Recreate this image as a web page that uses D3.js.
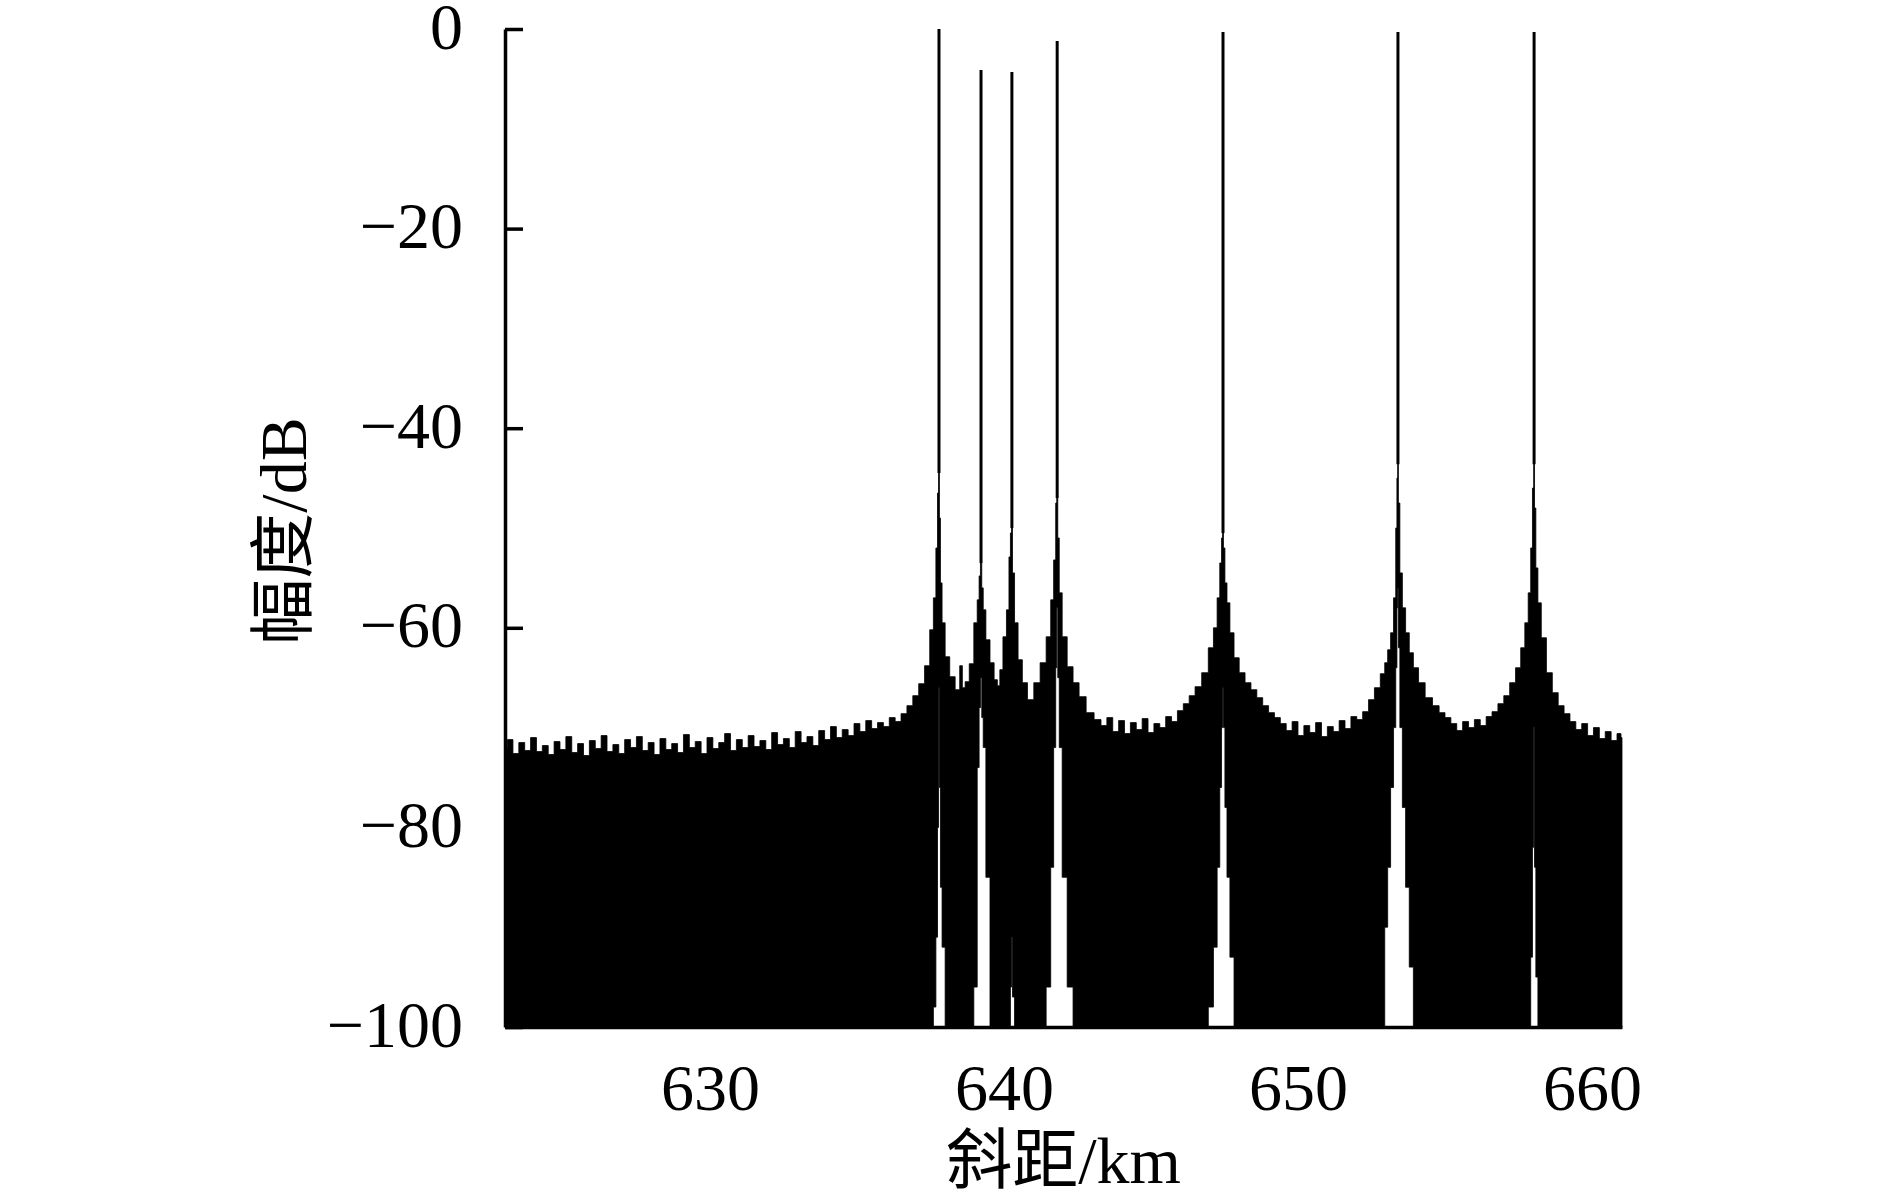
<!DOCTYPE html>
<html>
<head>
<meta charset="utf-8">
<script src="https://cdn.jsdelivr.net/npm/d3@7"></script>
<style>
  html, body { margin: 0; padding: 0; background: #fff; }
  svg { display: block; }
  text { font-family: "Liberation Serif", "Noto Sans CJK SC", serif; fill: #000; }
</style>
</head>
<body>
<svg id="chart" width="1890" height="1196"></svg>
<script>
// ---------------- data ----------------
const xTicks = [630, 640, 650, 660];
const yTicks = [0, -20, -40, -60, -80, -100];
const xDomain = [623.03, 661.02];
const yDomain = [-100, 0];
const xTitle = "斜距/km";
const yTitle = "幅度/dB";

// point targets (range in km, peak amplitude in dB)
const peakKm = [637.79, 639.22, 640.27, 641.81, 647.45, 653.40, 658.03];
const peakDb = [0, -4.1, -4.3, -1.2, -0.3, -0.3, -0.3];

// envelope of the dense range profile: sample position, upper and lower extent
const rangeKm = [
  623.03, 623.2, 623.4, 623.6, 623.8, 624.0, 624.2, 624.4, 624.6, 624.8,
  625.0, 625.2, 625.4, 625.6, 625.8, 626.0, 626.2, 626.4, 626.6, 626.8,
  627.0, 627.2, 627.4, 627.6, 627.8, 628.0, 628.2, 628.4, 628.6, 628.8,
  629.0, 629.2, 629.4, 629.6, 629.8, 630.0, 630.2, 630.4, 630.6, 630.8,
  631.0, 631.2, 631.4, 631.6, 631.8, 632.0, 632.2, 632.4, 632.6, 632.8,
  633.0, 633.2, 633.4, 633.6, 633.8, 634.0, 634.2, 634.4, 634.6, 634.8,
  635.0, 635.2, 635.4, 635.6, 635.8, 636.0, 636.2, 636.4,
  636.6, 636.8, 637.0, 637.2, 637.4, 637.55, 637.65, 637.72, 637.76, 637.79,
  637.82, 637.86, 637.93, 638.07, 638.24, 638.44, 638.55, 638.62, 638.74, 638.9,
  639.05, 639.13, 639.18, 639.22, 639.27, 639.32, 639.45, 639.6, 639.73, 639.82,
  639.9, 640.03, 640.14, 640.2, 640.24, 640.27, 640.31, 640.41, 640.55, 640.7,
  640.9, 641.13, 641.33, 641.54, 641.64, 641.74, 641.78, 641.81, 641.85, 641.91,
  642.05, 642.25, 642.45, 642.66, 642.93, 643.2,
  643.4, 643.6, 643.8, 644.0, 644.2, 644.4, 644.6, 644.8, 645.0, 645.2,
  645.4, 645.6, 645.8, 646.0,
  646.2, 646.4, 646.6, 646.85, 647.05, 647.2, 647.3, 647.38, 647.42, 647.45,
  647.48, 647.55, 647.62, 647.75, 647.9, 648.1, 648.3, 648.5, 648.7, 648.9,
  649.1, 649.3,
  649.5, 649.7, 649.9, 650.1, 650.3, 650.5, 650.7, 650.9, 651.1, 651.3,
  651.5, 651.7, 651.9, 652.1, 652.3,
  652.5, 652.7, 652.9, 653.0, 653.1, 653.2, 653.3, 653.35, 653.38, 653.40,
  653.43, 653.5, 653.6, 653.72, 653.85, 654.0, 654.2, 654.45, 654.7, 654.9,
  655.1,
  655.3, 655.5, 655.7, 655.9, 656.1, 656.3, 656.5, 656.7, 656.9, 657.1,
  657.3, 657.5, 657.65, 657.78, 657.88, 657.95, 658.0, 658.03, 658.06, 658.12,
  658.2, 658.35, 658.55, 658.75, 658.95, 659.15,
  659.35, 659.55, 659.75, 659.95, 660.15, 660.35, 660.55, 660.75, 660.95, 661.02
];
const upperDb = [
  -72.0, -71.2, -72.6, -71.5, -72.3, -71.0, -72.4, -71.8, -72.7, -71.4,
  -72.2, -70.9, -72.5, -71.6, -72.8, -71.3, -72.1, -70.8, -72.4, -71.7,
  -72.6, -71.2, -72.0, -70.9, -72.3, -71.5, -72.7, -71.1, -72.2, -71.6,
  -72.5, -70.7, -72.0, -71.4, -72.6, -71.0, -72.1, -71.5, -70.6, -72.3,
  -71.2, -72.0, -70.8, -71.9, -71.3, -72.2, -70.5, -71.7, -71.1, -72.0,
  -70.4, -71.5, -70.9, -71.8, -70.3, -71.2, -69.9, -71.0, -70.2, -70.8,
  -69.6, -70.4, -69.3, -70.1, -69.5, -69.9, -69.0, -69.4,
  -68.6, -67.8, -66.8, -65.6, -63.8, -60.2, -57.0, -52.0, -46.5, -44.5,
  -49.0, -55.5, -59.5, -62.9, -64.9, -66.2, -63.8, -66.0, -65.4, -63.6,
  -59.5, -57.2, -54.8, -53.5, -56.0, -58.2, -61.2, -63.5, -65.2, -65.8,
  -64.2, -60.9, -58.2, -52.9, -50.5, -50.0, -54.5, -59.5, -63.2, -65.5,
  -67.2, -65.5, -63.5, -60.9, -57.2, -53.2, -47.5, -47.0, -51.0, -56.5,
  -60.9, -63.9, -65.5, -66.9, -68.5, -69.2,
  -69.8, -69.0, -70.4, -69.3, -70.6, -69.5, -70.2, -69.1, -70.5, -69.6,
  -70.0, -68.9, -69.4, -68.3,
  -67.6, -66.8, -65.9, -64.5, -62.0, -60.0, -57.0, -53.5, -51.0, -50.5,
  -52.0, -55.5, -57.5, -60.5, -63.0, -64.5, -65.5, -66.2, -67.0, -67.8,
  -68.5, -69.0,
  -69.6, -70.3, -69.4, -70.8, -69.8, -70.5, -69.5, -70.9, -69.9, -70.4,
  -69.3, -70.1, -68.9, -69.2, -68.4,
  -67.2, -66.0, -64.6, -63.5, -62.2, -60.5, -57.0, -50.0, -45.0, -43.6,
  -47.5, -54.5, -58.0, -60.5, -62.5, -64.0, -65.5, -67.0, -67.8, -68.5,
  -69.0,
  -69.6, -70.3, -69.4, -70.0, -69.2, -69.8, -68.9, -68.4, -67.6, -66.8,
  -65.5, -64.0, -62.0, -59.5, -56.5, -52.0, -46.0, -43.6, -48.0, -54.0,
  -57.5, -61.0, -64.5, -66.5, -67.8, -68.6,
  -69.4, -70.2, -69.6, -70.8, -70.0, -71.1, -70.4, -71.3, -70.6, -71.0
];
const lowerDb = [
  -100, -100, -100, -100, -100, -100, -100, -100, -100, -100,
  -100, -100, -100, -100, -100, -100, -100, -100, -100, -100,
  -100, -100, -100, -100, -100, -100, -100, -100, -100, -100,
  -100, -100, -100, -100, -100, -100, -100, -100, -100, -100,
  -100, -100, -100, -100, -100, -100, -100, -100, -100, -100,
  -100, -100, -100, -100, -100, -100, -100, -100, -100, -100,
  -100, -100, -100, -100, -100, -100, -100, -100,
  -100, -100, -100, -100, -100, -100, -98, -91, -80, -66,
  -76, -86, -92, -100, -100, -100, -100, -100, -100, -100,
  -96, -74, -68, -65, -69, -72, -85, -100, -100, -100,
  -100, -100, -100, -100, -96, -91, -97, -100, -100, -100,
  -100, -100, -100, -96, -84, -72, -64, -58, -65, -72,
  -85, -96, -100, -100, -100, -100,
  -100, -100, -100, -100, -100, -100, -100, -100, -100, -100,
  -100, -100, -100, -100,
  -100, -100, -100, -100, -98, -92, -84, -76, -70, -66,
  -70, -78, -85, -93, -100, -100, -100, -100, -100, -100,
  -100, -100,
  -100, -100, -100, -100, -100, -100, -100, -100, -100, -100,
  -100, -100, -100, -100, -100,
  -100, -100, -100, -90, -84, -76, -70, -64, -58, -56,
  -62, -70, -78, -86, -94, -100, -100, -100, -100, -100,
  -100,
  -100, -100, -100, -100, -100, -100, -100, -100, -100, -100,
  -100, -100, -100, -100, -100, -93, -82, -70, -84, -95,
  -100, -100, -100, -100, -100, -100,
  -100, -100, -100, -100, -100, -100, -100, -100, -100, -100
];

// ---------------- drawing ----------------
const svg = d3.select("#chart");
svg.append("rect").attr("width", 1890).attr("height", 1196).attr("fill", "#fff");

const plot = { left: 505, right: 1622, top: 29, bottom: 1027 };
const x = d3.scaleLinear().domain(xDomain).range([plot.left, plot.right]);
const y = d3.scaleLinear().domain(yDomain).range([plot.bottom, plot.top]);

const fmt = d => (d < 0 ? "\u2212" + Math.abs(d) : String(d));

// dense profile as an envelope band (stepped, like the sampled signal)
const idx = d3.range(rangeKm.length);
const band = d3.area()
  .x(i => x(rangeKm[i]))
  .y0(i => y(lowerDb[i]))
  .y1(i => y(upperDb[i]))
  .curve(d3.curveStep);

svg.append("path")
  .datum(idx)
  .attr("d", band)
  .attr("fill", "#000")
  .attr("stroke", "#000")
  .attr("stroke-width", 0.8)
  .attr("stroke-linejoin", "miter");

// peak spikes: from the top of the peak down to the envelope at that range
const footDb = peakKm.map(k => {
  const i = rangeKm.indexOf(k);
  return i >= 0 ? upperDb[i] : -60;
});
svg.append("g")
  .selectAll("line")
  .data(peakKm)
  .join("line")
  .attr("x1", d => x(d))
  .attr("x2", d => x(d))
  .attr("y1", (d, i) => y(peakDb[i]))
  .attr("y2", (d, i) => y(footDb[i]))
  .attr("stroke", "#000")
  .attr("stroke-width", 3);

// axes
const yAxis = d3.axisLeft(y)
  .tickValues(yTicks)
  .tickFormat(fmt)
  .tickSizeInner(-18)
  .tickSizeOuter(0)
  .tickPadding(42);
const gy = svg.append("g")
  .attr("transform", `translate(${plot.left},0)`)
  .call(yAxis);
gy.selectAll("path.domain").attr("stroke", "#000").attr("stroke-width", 3.5);
gy.selectAll(".tick line").attr("stroke", "#000").attr("stroke-width", 3.5);
gy.selectAll(".tick text")
  .attr("font-size", 66)
  .attr("font-family", "Liberation Serif, serif")
  .attr("dy", "0.29em");

const xAxis = d3.axisBottom(x)
  .tickValues(xTicks)
  .tickFormat(fmt)
  .tickSizeInner(-18)
  .tickSizeOuter(0)
  .tickPadding(36);
const gx = svg.append("g")
  .attr("transform", `translate(0,${plot.bottom})`)
  .call(xAxis);
gx.selectAll("path.domain").attr("stroke", "#000").attr("stroke-width", 3.5);
gx.selectAll(".tick line").attr("stroke", "#000").attr("stroke-width", 3);
gx.selectAll(".tick text")
  .attr("font-size", 66)
  .attr("font-family", "Liberation Serif, serif");

// axis titles
svg.append("text")
  .attr("x", (plot.left + plot.right) / 2)
  .attr("y", 1183)
  .attr("text-anchor", "middle")
  .attr("font-size", 66)
  .text(xTitle);

svg.append("text")
  .attr("transform", `translate(306,531) rotate(-90)`)
  .attr("text-anchor", "middle")
  .attr("font-size", 66)
  .text(yTitle);
</script>
</body>
</html>
